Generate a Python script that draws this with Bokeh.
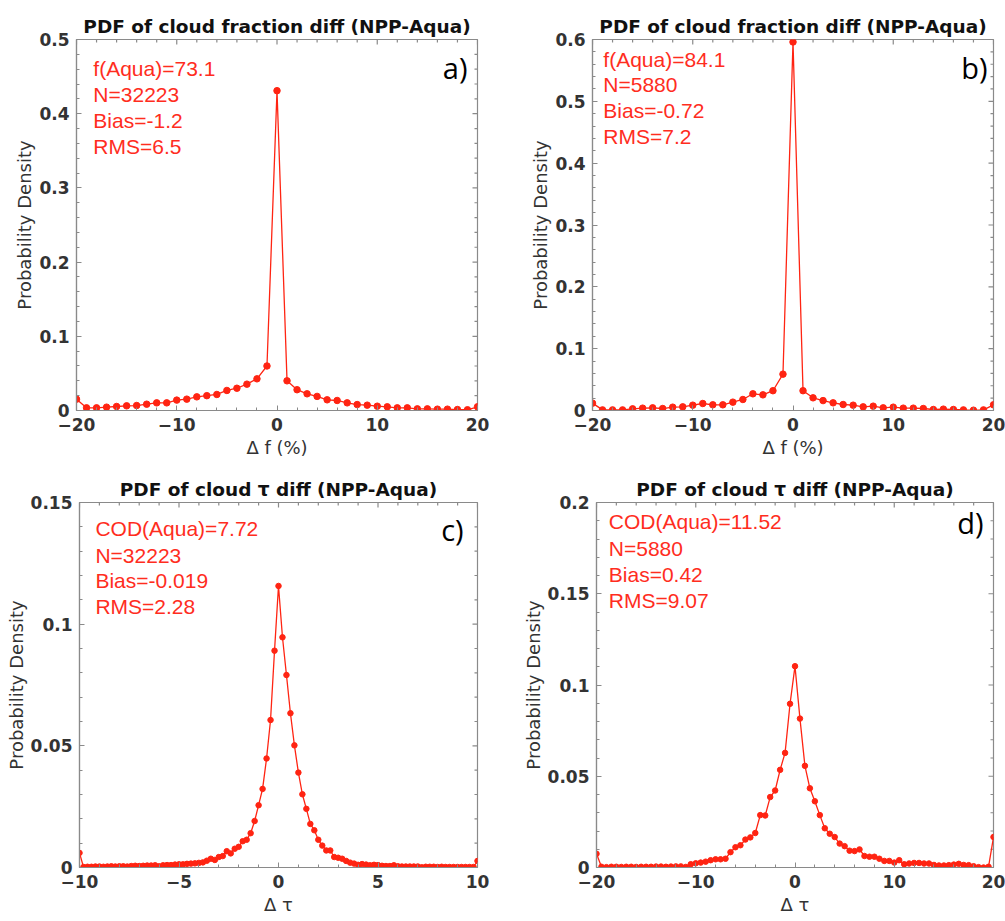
import math
from bokeh.plotting import figure
from bokeh.layouts import row, column
from bokeh.models import (FixedTicker, NumeralTickFormatter, LinearAxis, Label, Range1d)
from bokeh.embed import file_html
from bokeh.resources import INLINE

# ---------------- data ----------------
x_frac = list(range(-20, 21))
pdf_a = [0.0153, 0.0036, 0.0036, 0.0045, 0.0054, 0.0063, 0.0067, 0.0085, 0.0103, 0.0103,
         0.0140, 0.0153, 0.0184, 0.0200, 0.0216, 0.0270, 0.0300, 0.0355, 0.0427, 0.0600,
         0.4310,
         0.0400, 0.0280, 0.0225, 0.0190, 0.0144, 0.0135, 0.0103, 0.0080, 0.0072, 0.0058,
         0.0050, 0.0036, 0.0036, 0.0022, 0.0022, 0.0018, 0.0018, 0.0013, 0.0010, 0.0050]
pdf_b = [0.0119, 0.0010, 0.0010, 0.0010, 0.0027, 0.0038, 0.0043, 0.0032, 0.0054, 0.0059,
         0.0086, 0.0113, 0.0092, 0.0092, 0.0135, 0.0178, 0.0270, 0.0253, 0.0320, 0.0588,
         0.5960,
         0.0320, 0.0205, 0.0160, 0.0124, 0.0097, 0.0086, 0.0059, 0.0070, 0.0043, 0.0054,
         0.0038, 0.0038, 0.0032, 0.0016, 0.0022, 0.0016, 0.0010, 0.0005, 0.0010, 0.0092]

x_tau_c = [round(-10 + 0.2 * i, 1) for i in range(101)]   # bin centres, step 0.2
pdf_c = [0.0060, 0.0002, 0.0003, 0.0003, 0.0004, 0.0004, 0.0003, 0.0004, 0.0005, 0.0004,
         0.0005, 0.0005, 0.0004, 0.0006, 0.0007, 0.0006, 0.0007, 0.0008, 0.0008, 0.0009,
         0.0005, 0.0009, 0.0010, 0.0010, 0.0012, 0.0013, 0.0013, 0.0015, 0.0016, 0.0017,
         0.0019, 0.0021, 0.0028, 0.0036, 0.0031, 0.0043, 0.0047, 0.0067, 0.0058, 0.0077,
         0.0085, 0.0108, 0.0114, 0.0141, 0.0191, 0.0256, 0.0323, 0.0448, 0.0606, 0.0891,
         0.1157,
         0.0946, 0.0791, 0.0634, 0.0502, 0.0390, 0.0301, 0.0241, 0.0179, 0.0153, 0.0114,
         0.0090, 0.0070, 0.0070, 0.0043, 0.0040, 0.0036, 0.0027, 0.0020, 0.0016, 0.0011,
         0.0014, 0.0012, 0.0009, 0.0011, 0.0010, 0.0007, 0.0006, 0.0006, 0.0009, 0.0005,
         0.0004, 0.0004, 0.0004, 0.0004, 0.0004, 0.0001, 0.0003, 0.0003, 0.0003, 0.0002,
         0.0003, 0.0002, 0.0002, 0.0002, 0.0002, 0.0002, 0.0002, 0.0002, 0.0002, 0.0027]

x_tau_d = [round(-20 + 0.5 * i, 1) for i in range(81)]    # bin centres, step 0.5
pdf_d = [0.0075, 0.0004, 0.0002, 0.0004, 0.0004, 0.0003, 0.0004, 0.0004, 0.0003, 0.0004,
         0.0004, 0.0004, 0.0005, 0.0005, 0.0004, 0.0005, 0.0006, 0.0006, 0.0003, 0.0018,
         0.0023, 0.0027, 0.0032, 0.0040, 0.0045, 0.0045, 0.0048, 0.0084, 0.0111, 0.0122,
         0.0153, 0.0165, 0.0189, 0.0287, 0.0285, 0.0386, 0.0422, 0.0535, 0.0628, 0.0897,
         0.1103,
         0.0816, 0.0557, 0.0434, 0.0363, 0.0287, 0.0215, 0.0185, 0.0167, 0.0131, 0.0117,
         0.0092, 0.0090, 0.0099, 0.0063, 0.0059, 0.0059, 0.0048, 0.0036, 0.0036, 0.0027,
         0.0040, 0.0018, 0.0022, 0.0025, 0.0025, 0.0022, 0.0022, 0.0014, 0.0011, 0.0011,
         0.0013, 0.0016, 0.0020, 0.0014, 0.0013, 0.0007, 0.0002, 0.0000, 0.0004, 0.0167]

# tick values and labels
xticks_frac = [-20, -10, 0, 10, 20]
xticks_c = [-10, -5, 0, 5, 10]
yticks_a = [0, 0.1, 0.2, 0.3, 0.4, 0.5]
yticks_b = [0, 0.1, 0.2, 0.3, 0.4, 0.5, 0.6]
yticks_c = [0, 0.05, 0.1, 0.15]
yticks_d = [0, 0.05, 0.1, 0.15, 0.2]
neg_tick_labels = {-20: "−20", -10: "−10", -5: "−5"}

titles = ["PDF of cloud fraction diff (NPP-Aqua)", "PDF of cloud fraction diff (NPP-Aqua)",
          "PDF of cloud τ diff (NPP-Aqua)", "PDF of cloud τ diff (NPP-Aqua)"]
xlabels = ["Δ f (%)", "Δ f (%)", "Δ τ", "Δ τ"]
ylabel = "Probability Density"
stats_a = ["f(Aqua)=73.1", "N=32223", "Bias=-1.2", "RMS=6.5"]
stats_b = ["f(Aqua)=84.1", "N=5880", "Bias=-0.72", "RMS=7.2"]
stats_c = ["COD(Aqua)=7.72", "N=32223", "Bias=-0.019", "RMS=2.28"]
stats_d = ["COD(Aqua)=11.52", "N=5880", "Bias=0.42", "RMS=9.07"]
letters = ["a)", "b)", "c)", "d)"]

# ---------------- styling ----------------
RED = "#ff2412"
TXT_RED = "#ff2d1e"
GRAY = "#8a8a8a"
FONT = "DejaVu Sans"
NMINOR = 5


def minor_of(ticks):
    out = []
    for t0, t1 in zip(ticks[:-1], ticks[1:]):
        step = (t1 - t0) / NMINOR
        out += [t0 + k * step for k in range(1, NMINOR)]
    return out


def panel(x, y, xr, yr, xticks, yticks, title, xlabel, stats, letter,
          width, height, bl, br, bt, bb, stat_pos, letter_pos, msize):
    p = figure(width=width, height=height, x_range=Range1d(*xr), y_range=Range1d(*yr),
               output_backend="svg", toolbar_location=None, tools="",
               min_border_left=bl, min_border_right=br, min_border_top=bt,
               min_border_bottom=bb, x_axis_type=None, y_axis_type=None)
    p.title.text = title
    p.title.align = "center"
    p.title.text_font = FONT
    p.title.text_font_size = "18.5px"
    p.title.text_font_style = "bold"
    p.title.text_color = "#111111"
    p.title.standoff = 5
    p.outline_line_color = GRAY
    p.outline_line_width = 1.2
    p.xgrid.visible = False
    p.ygrid.visible = False

    def style(ax):
        ax.axis_line_color = GRAY
        ax.axis_line_width = 1.2
        ax.major_tick_line_color = GRAY
        ax.minor_tick_line_color = GRAY
        ax.major_tick_in = 5
        ax.major_tick_out = 0
        ax.minor_tick_in = 3
        ax.minor_tick_out = 0
        ax.major_label_text_font = FONT
        ax.major_label_text_font_size = "17px"
        ax.major_label_text_font_style = "bold"
        ax.major_label_text_color = "#333333"
        ax.major_label_standoff = 7
        ax.axis_label_text_font = FONT
        ax.axis_label_text_font_size = "18px"
        ax.axis_label_text_font_style = "normal"
        ax.axis_label_text_color = "#333333"
        ax.axis_label_standoff = 1

    xb = LinearAxis(ticker=FixedTicker(ticks=xticks, minor_ticks=minor_of(xticks)),
                    formatter=NumeralTickFormatter(format="0"), axis_label=xlabel)
    xb.major_label_overrides = dict(neg_tick_labels)
    style(xb)
    xb.axis_label_standoff = 3
    p.add_layout(xb, "below")
    yl = LinearAxis(ticker=FixedTicker(ticks=yticks, minor_ticks=minor_of(yticks)),
                    formatter=NumeralTickFormatter(format="0.[00]"), axis_label=ylabel)
    style(yl)
    p.add_layout(yl, "left")

    # mirrored ticks on the top and right frame edges (dash markers clipped by the frame)
    xmin = minor_of(xticks)
    ymin = minor_of(yticks)
    p.scatter(xticks, [yr[1]] * len(xticks), marker="dash", size=10, angle=math.pi / 2,
              line_color=GRAY, line_width=1.2)
    p.scatter(xmin, [yr[1]] * len(xmin), marker="dash", size=6, angle=math.pi / 2,
              line_color=GRAY, line_width=1.2)
    p.scatter([xr[1]] * len(yticks), yticks, marker="dash", size=10,
              line_color=GRAY, line_width=1.2)
    p.scatter([xr[1]] * len(ymin), ymin, marker="dash", size=6,
              line_color=GRAY, line_width=1.2)

    p.line(x, y, line_color=RED, line_width=1.3)
    p.scatter(x, y, size=msize, fill_color=RED, line_color=RED)

    fx, fys = stat_pos
    for s, fy in zip(stats, fys):
        p.add_layout(Label(x=xr[0] + fx * (xr[1] - xr[0]), y=yr[1] - fy * (yr[1] - yr[0]),
                           text=s, text_font="Liberation Sans", text_font_size="21px",
                           text_color=TXT_RED, text_baseline="middle", text_align="left"))
    lx, ly = letter_pos
    p.add_layout(Label(x=xr[0] + lx * (xr[1] - xr[0]), y=yr[1] - ly * (yr[1] - yr[0]),
                       text=letter, text_font="Open Sans", text_font_size="29px",
                       text_color="#000000", text_baseline="middle", text_align="right"))
    return p


pa = panel(x_frac, pdf_a, (-20, 20), (0, 0.5), xticks_frac, yticks_a, titles[0], xlabels[0],
           stats_a, letters[0], 502, 460, 76, 25, 39, 50,
           (0.042, [0.078, 0.149, 0.218, 0.288]), (0.975, 0.075), 6.5)
pb = panel(x_frac, pdf_b, (-20, 20), (0, 0.6), xticks_frac, yticks_b, titles[1], xlabels[1],
           stats_b, letters[1], 503, 460, 90, 12, 39, 50,
           (0.027, [0.055, 0.122, 0.191, 0.261]), (0.985, 0.075), 6.5)
pc = panel(x_tau_c, pdf_c, (-10, 10), (0, 0.15), xticks_c, yticks_c, titles[2], xlabels[2],
           stats_c, letters[2], 502, 461, 79, 25, 35, 54,
           (0.040, [0.072, 0.145, 0.215, 0.285]), (0.965, 0.073), 5.5)
pd_ = panel(x_tau_d, pdf_d, (-20, 20), (0, 0.2), xticks_frac, yticks_d, titles[3], xlabels[3],
            stats_d, letters[3], 503, 461, 94, 12, 42, 48,
            (0.031, [0.053, 0.125, 0.197, 0.269]), (0.975, 0.054), 5.5)

layout = column(row(pa, pb), row(pc, pd_))
open("out.html", "w").write(file_html(layout, INLINE))
